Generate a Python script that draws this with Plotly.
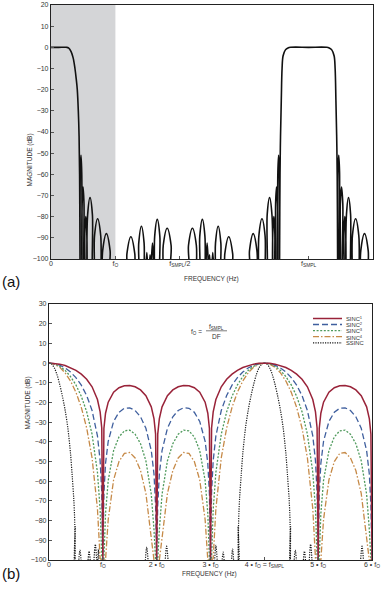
import plotly.graph_objects as go

W, H = 388, 594
FONT = "Liberation Sans Narrow, Arial Narrow, Liberation Sans, Arial, sans-serif"

def px(x):
    return x / W

def py(y):
    return 1 - y / H

# ---------------- (a) decimation filter response (frequency in units of fSMPL) ----------------
top_tick_vals = [0, 0.25, 0.5, 1.0]
top_tick_text = ["0", "f<sub>O</sub>", "f<sub>SMPL</sub>/2", "f<sub>SMPL</sub>"]
shade_start, shade_end = 0, 0.25

# passband around DC
pass0_freq = [0, 0.03, 0.06, 0.068, 0.078, 0.086, 0.093, 0.098, 0.102, 0.106, 0.109, 0.111, 0.1125]
pass0_db = [0, 0, 0, -0.3, -2, -5, -10, -15, -20, -30, -42, -60, -97]
# image passband around fSMPL
pass1_freq = [0.8875, 0.889, 0.891, 0.894, 0.897, 0.901, 0.91, 0.92, 0.93, 1.0, 1.07, 1.08, 1.09, 1.099,
              1.103, 1.106, 1.109, 1.111, 1.1125]
pass1_db = [-97, -60, -42, -25, -10, -4, -1.2, -0.3, 0, 0, 0, -0.3, -1.2, -4, -10, -25, -42, -60, -97]

# stopband side lobes: start, end, peak (dB)
lobeA_start = [0.113, 0.120, 0.130, 0.140, 0.166, 0.197]
lobeA_end = [0.120, 0.129, 0.140, 0.163, 0.196, 0.233]
lobeA_peak = [-51, -66, -80, -71, -81, -88]

lobeB_start = [0.291, 0.338, 0.367, 0.380, 0.389, 0.400, 0.432, 0.530, 0.575, 0.601, 0.611, 0.623, 0.636, 0.671,
               0.767, 0.804, 0.837, 0.860, 0.871, 0.880]
lobeB_end = [0.329, 0.364, 0.377, 0.389, 0.399, 0.425, 0.470, 0.568, 0.600, 0.611, 0.620, 0.633, 0.662, 0.709,
             0.803, 0.834, 0.860, 0.870, 0.880, 0.887]
lobeB_peak = [-89.5, -84.5, -97, -98, -92.5, -81.3, -85.5, -85.5, -81.3, -92.5, -98, -97, -84.5, -89.5,
              -88, -81, -71, -80, -66, -51]

lobeC_start = [1.113, 1.122, 1.136, 1.145, 1.167, 1.199]
lobeC_end = [1.121, 1.134, 1.145, 1.165, 1.198, 1.235]
lobeC_peak = [-51, -66, -80, -71, -81, -88]

# ---------------- (b) SINC^N responses (frequency in units of fO) ----------------
bot_tick_vals = [0, 1, 2, 3, 4, 5, 6]
bot_tick_text = ["0", "f<sub>O</sub>", "2 • f<sub>O</sub>", "3 • f<sub>O</sub>",
                 "4 • f<sub>O</sub> = f<sub>SMPL</sub>", "5 • f<sub>O</sub>", "6 • f<sub>O</sub>"]

bot_freq = [0, 0.1, 0.2, 0.3, 0.4, 0.5, 0.6, 0.7, 0.8, 0.9, 0.95, 0.98, 1.0, 1.02, 1.05, 1.1, 1.2, 1.3, 1.4,
            1.5, 1.6, 1.7, 1.8, 1.9, 1.95, 1.98, 2.0,
            2.02, 2.05, 2.1, 2.2, 2.3, 2.4, 2.5, 2.6, 2.7, 2.8, 2.9, 2.95, 2.98, 3.0, 3.02, 3.05, 3.1, 3.2,
            3.3, 3.4, 3.5, 3.6, 3.7, 3.8, 3.9, 4.0,
            4.1, 4.2, 4.3, 4.4, 4.5, 4.6, 4.7, 4.8, 4.9, 4.95, 4.98, 5.0, 5.02, 5.05, 5.1, 5.2, 5.3, 5.4,
            5.5, 5.6, 5.7, 5.8, 5.9, 5.95, 5.98, 6.0]

sinc1 = [0, -0.13, -0.54, -1.25, -2.28, -3.70, -5.62, -8.24, -12.04, -18.49, -24.79, -32.93, -100, -33.21,
         -25.47, -19.86, -14.82, -12.50, -11.48, -11.35, -12.04, -13.64, -16.55, -22.21, -28.15, -36.08, -100,
         -36.08, -28.15, -22.21, -16.55, -13.64, -12.04, -11.35, -11.48, -12.50, -14.82, -19.86, -25.47, -33.21,
         -100, -32.93, -24.79, -18.49, -12.04, -8.24, -5.62, -3.70, -2.28, -1.25, -0.54, -0.13, 0,
         -0.13, -0.54, -1.25, -2.28, -3.70, -5.62, -8.24, -12.04, -18.49, -24.79, -32.93, -100, -33.21,
         -25.47, -19.86, -14.82, -12.50, -11.48, -11.35, -12.04, -13.64, -16.55, -22.21, -28.15, -36.08, -100]

sinc2 = [0, -0.27, -1.09, -2.49, -4.55, -7.40, -11.24, -16.49, -24.08, -36.98, -49.58, -65.86, -100, -66.42,
         -50.94, -39.72, -29.64, -25.00, -22.95, -22.71, -24.08, -27.28, -33.10, -44.42, -56.30, -72.16, -100,
         -72.16, -56.30, -44.42, -33.10, -27.28, -24.08, -22.71, -22.95, -25.00, -29.64, -39.72, -50.94, -66.42,
         -100, -65.86, -49.58, -36.98, -24.08, -16.49, -11.24, -7.40, -4.55, -2.49, -1.09, -0.27, 0,
         -0.27, -1.09, -2.49, -4.55, -7.40, -11.24, -16.49, -24.08, -36.98, -49.58, -65.86, -100, -66.42,
         -50.94, -39.72, -29.64, -25.00, -22.95, -22.71, -24.08, -27.28, -33.10, -44.42, -56.30, -72.16, -100]

sinc3 = [0, -0.40, -1.63, -3.74, -6.83, -11.09, -16.85, -24.73, -36.12, -55.47, -74.37, -98.79, -100, -99.63,
         -76.41, -59.58, -44.46, -37.50, -34.43, -34.06, -36.12, -40.92, -49.65, -66.63, -84.45, -100, -100,
         -100, -84.45, -66.63, -49.65, -40.92, -36.12, -34.06, -34.43, -37.50, -44.46, -59.58, -76.41, -99.63,
         -100, -98.79, -74.37, -55.47, -36.12, -24.73, -16.85, -11.09, -6.83, -3.74, -1.63, -0.40, 0,
         -0.40, -1.63, -3.74, -6.83, -11.09, -16.85, -24.73, -36.12, -55.47, -74.37, -98.79, -100, -99.63,
         -76.41, -59.58, -44.46, -37.50, -34.43, -34.06, -36.12, -40.92, -49.65, -66.63, -84.45, -100, -100]

sinc4 = [0, -0.54, -2.17, -4.98, -9.11, -14.79, -22.47, -32.98, -48.16, -73.96, -99.16, -100, -100, -100,
         -100, -79.44, -59.28, -50.00, -45.90, -45.41, -48.16, -54.56, -66.20, -88.84, -100, -100, -100,
         -100, -100, -88.84, -66.20, -54.56, -48.16, -45.41, -45.90, -50.00, -59.28, -79.44, -100, -100,
         -100, -100, -99.16, -73.96, -48.16, -32.98, -22.47, -14.79, -9.11, -4.98, -2.17, -0.54, 0,
         -0.54, -2.17, -4.98, -9.11, -14.79, -22.47, -32.98, -48.16, -73.96, -99.16, -100, -100, -100,
         -100, -79.44, -59.28, -50.00, -45.90, -45.41, -48.16, -54.56, -66.20, -88.84, -100, -100, -100]

# SSINC main lobes (around 0 and around fSMPL = 4 fO)
ssinc_main0_freq = [0, 0.05, 0.1, 0.15, 0.2, 0.25, 0.3, 0.35, 0.4, 0.43, 0.46, 0.478, 0.483, 0.488, 0.493]
ssinc_main0_db = [0, -0.6, -2.5, -6, -11, -17, -24, -33, -46, -57, -69, -81, -110, -83, -110]
ssinc_main4_freq = [3.507, 3.512, 3.517, 3.522, 3.54, 3.57, 3.6, 3.65, 3.7, 3.75, 3.8, 3.85, 3.9, 3.95, 4.0,
                    4.05, 4.1, 4.15, 4.2, 4.25, 4.3, 4.35, 4.4, 4.43, 4.46, 4.478, 4.483, 4.488, 4.493]
ssinc_main4_db = [-110, -83, -110, -81, -69, -57, -46, -33, -24, -17, -11, -6, -2.5, -0.6, 0,
                  -0.6, -2.5, -6, -11, -17, -24, -33, -46, -57, -69, -81, -110, -83, -110]
# SSINC stopband lobes: start, end, peak (dB)
ssinc_lobe_start = [0.54, 0.71, 0.83, 0.90, 1.78, 2.15, 3.07, 3.20, 3.38, 4.54, 4.71, 4.83, 5.78]
ssinc_lobe_end = [0.61, 0.78, 0.89, 0.935, 1.85, 2.22, 3.13, 3.27, 3.44, 4.61, 4.78, 4.89, 5.85]
ssinc_lobe_peak = [-95, -95.5, -92, -94.5, -93.5, -93, -92.5, -96, -94.5, -95, -95.5, -92, -93]

series_names = ["SINC<sup>1</sup>", "SINC<sup>2</sup>", "SINC<sup>3</sup>", "SINC<sup>4</sup>", "SSINC"]
series_colors = ["#992339", "#3f5f9e", "#4f9a5c", "#c68a48", "#1a1a1a"]
series_dash = ["solid", "6px,3px", "2px,1.6px", "6px,2px,1.5px,2px", "1.2px,1.2px"]
series_width = [1.5, 1.3, 1.3, 1.3, 1.2]


def arches(starts, ends, peaks):
    """Turn lobe extents/peaks into an arch outline (foot, shoulder, peak, shoulder, foot)."""
    xs, ys = [], []
    for s, e, p in zip(starts, ends, peaks):
        w = e - s
        xs += [s, s + 0.1 * w, s + 0.5 * w, e - 0.1 * w, e]
        ys += [-110, p - 8, p, p - 8, -110]
    return xs, ys


ax_, ay_ = arches(lobeA_start, lobeA_end, lobeA_peak)
bx_, by_ = arches(lobeB_start, lobeB_end, lobeB_peak)
cx_, cy_ = arches(lobeC_start, lobeC_end, lobeC_peak)
top_x = pass0_freq + ax_ + bx_ + pass1_freq + cx_ + [1.25]
top_y = pass0_db + ay_ + by_ + pass1_db + cy_ + [-110]

lo = [i for i, s in enumerate(ssinc_lobe_start) if s < 3.5]
hi = [i for i, s in enumerate(ssinc_lobe_start) if s > 4.5]
lx1, ly1 = arches([ssinc_lobe_start[i] for i in lo], [ssinc_lobe_end[i] for i in lo],
                  [ssinc_lobe_peak[i] for i in lo])
lx2, ly2 = arches([ssinc_lobe_start[i] for i in hi], [ssinc_lobe_end[i] for i in hi],
                  [ssinc_lobe_peak[i] for i in hi])
ss_x = ssinc_main0_freq + lx1 + ssinc_main4_freq + lx2 + [6.0]
ss_y = ssinc_main0_db + ly1 + ssinc_main4_db + ly2 + [-110]

fig = go.Figure()

fig.add_trace(go.Scatter(x=top_x, y=top_y, mode="lines", xaxis="x", yaxis="y",
                         line=dict(color="#111", width=1.6, shape="spline", smoothing=1.0),
                         showlegend=False, hoverinfo="skip"))

bottom_series = [sinc1, sinc2, sinc3, sinc4]
fig.add_trace(go.Scatter(x=ss_x, y=ss_y, mode="lines", xaxis="x2", yaxis="y2",
                         line=dict(color=series_colors[4], width=series_width[4], dash=series_dash[4],
                                   shape="spline", smoothing=0.9),
                         name="SSINC", showlegend=False))
for i in [3, 2, 1, 0]:
    fig.add_trace(go.Scatter(x=bot_freq, y=bottom_series[i], mode="lines", xaxis="x2", yaxis="y2",
                             line=dict(color=series_colors[i], width=series_width[i], dash=series_dash[i]),
                             name=series_names[i], showlegend=False))

axis_common = dict(showline=True, linecolor="#222", linewidth=1.2, mirror=True, ticks="inside",
                   ticklen=3, tickcolor="#555", tickwidth=1, showgrid=False, zeroline=False,
                   automargin=False, tickfont=dict(family=FONT, size=7, color="#333"))

fig.update_layout(
    width=W, height=H, margin=dict(l=0, r=0, t=0, b=0, autoexpand=False),
    paper_bgcolor="white", plot_bgcolor="white",
    xaxis=dict(domain=[px(51), px(373)], range=[0, 1.25], anchor="y", ticklabelstandoff=-3,
               tickmode="array", tickvals=top_tick_vals, ticktext=top_tick_text, **axis_common),
    yaxis=dict(domain=[py(259), py(5)], range=[-100, 20], anchor="x", dtick=10, tick0=0, **axis_common),
    xaxis2=dict(domain=[px(49), px(372)], range=[0, 6], anchor="y2", ticklabelstandoff=-3,
                tickmode="array", tickvals=bot_tick_vals, ticktext=bot_tick_text, **axis_common),
    yaxis2=dict(domain=[py(560), py(304)], range=[-100, 30], anchor="x2", dtick=10, tick0=0, **axis_common),
)

shapes = [dict(type="rect", xref="x", yref="y domain", x0=shade_start, x1=shade_end, y0=0, y1=1,
               fillcolor="#d4d5d7", line=dict(width=0), layer="below")]

# legend for (b), drawn compactly as in the original
legend_y = [318.5, 324.5, 330.6, 336.7, 342.8]
for i in range(5):
    shapes.append(dict(type="line", xref="paper", yref="paper", x0=px(313), x1=px(342),
                       y0=py(legend_y[i]), y1=py(legend_y[i]),
                       line=dict(color=series_colors[i], width=series_width[i], dash=series_dash[i])))
# fraction bar of fO = fSMPL / DF
shapes.append(dict(type="line", xref="paper", yref="paper", x0=px(206), x1=px(227), y0=py(330.8), y1=py(330.8),
                   line=dict(color="#444", width=0.7)))
fig.update_layout(shapes=shapes)

ann = []
for i in range(5):
    ann.append(dict(x=px(344), y=py(legend_y[i] + 0.3), xref="paper", yref="paper", text=series_names[i],
                    showarrow=False, xanchor="left", yanchor="middle",
                    font=dict(family=FONT, size=5.8, color="#333")))
extra = [
    dict(x=px(23), y=py(132), text="MAGNITUDE (dB)", textangle=-90),
    dict(x=px(21), y=py(432), text="MAGNITUDE (dB)", textangle=-90),
    dict(x=px(212), y=py(279), text="FREQUENCY (Hz)"),
    dict(x=px(209), y=py(580), text="FREQUENCY (Hz)"),
    dict(x=px(196), y=py(332), text="f<sub>O</sub> ="),
    dict(x=px(216.5), y=py(326.5), text="f<sub>SMPL</sub>"),
    dict(x=px(216.5), y=py(336.5), text="DF"),
]
for a in extra:
    a.update(xref="paper", yref="paper", showarrow=False,
             font=dict(family=FONT, size=6.5, color="#333"))
ann += extra
ann += [
    dict(x=px(0), y=py(282), xref="paper", yref="paper", text="(a)", showarrow=False, xanchor="left",
         font=dict(family="Liberation Sans, Arial, sans-serif", size=15, color="#111")),
    dict(x=px(0), y=py(584), xref="paper", yref="paper", text="(b)", showarrow=False, xanchor="left",
         font=dict(family="Liberation Sans, Arial, sans-serif", size=15, color="#111")),
]
fig.update_layout(annotations=ann)

fig.write_html("out.html", config={"displayModeBar": False},
               post_script="document.body.style.margin='0';document.body.style.padding='0';")
